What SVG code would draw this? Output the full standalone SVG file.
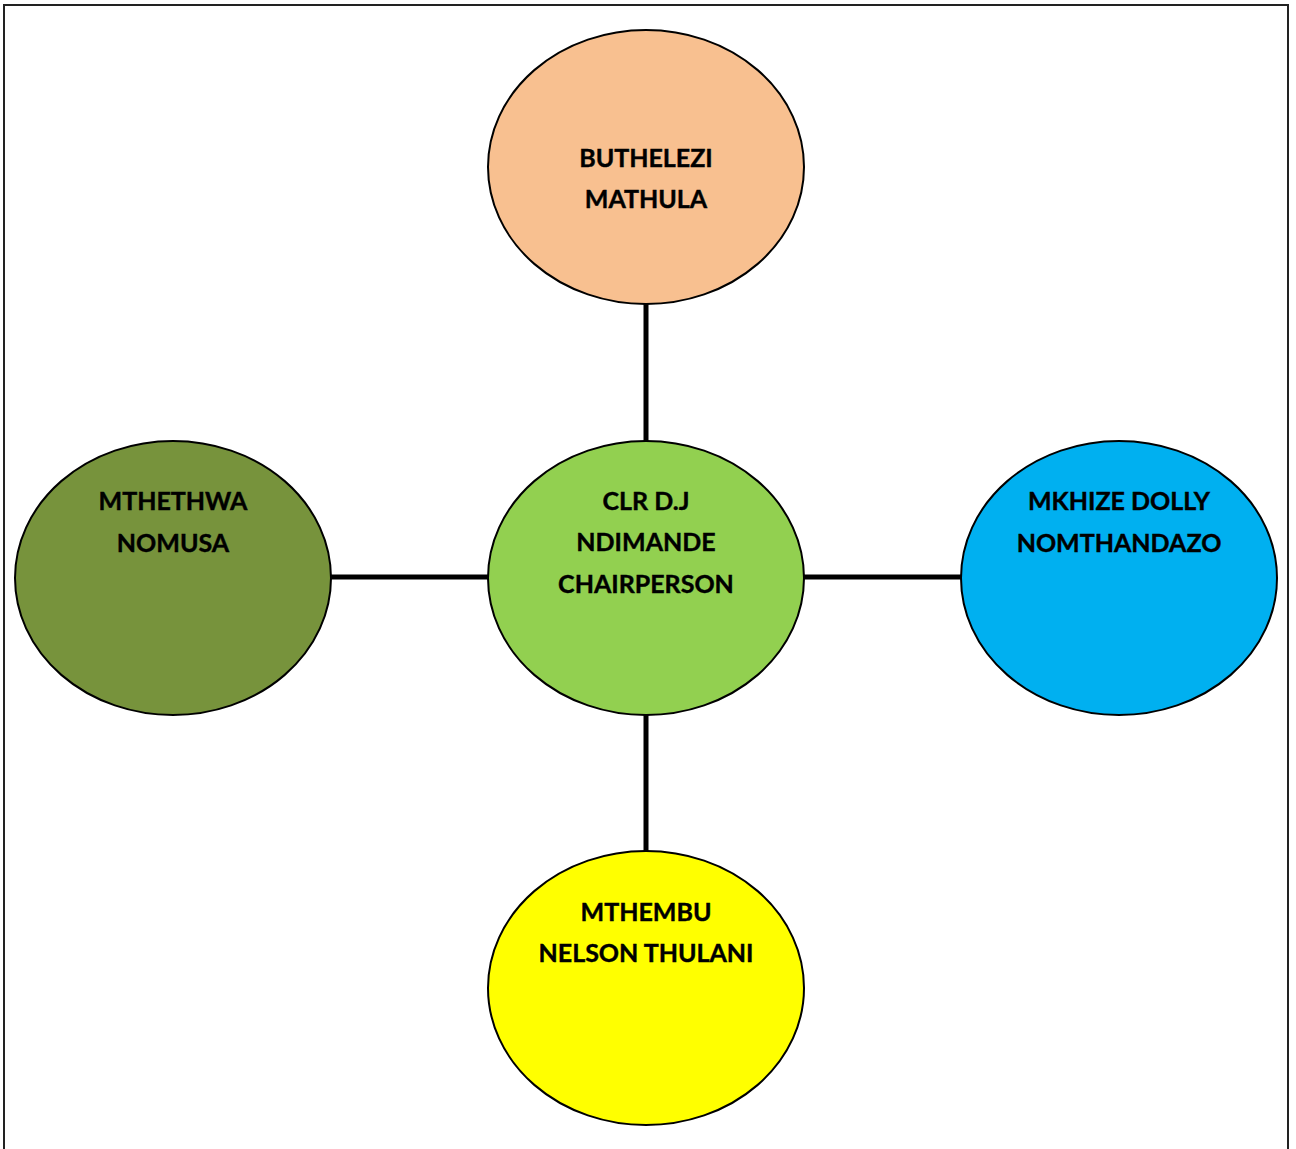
<svg xmlns="http://www.w3.org/2000/svg" width="1296" height="1149" viewBox="0 0 1296 1149">
<style>
.node{stroke:#000;stroke-width:2}
.lbl{font-family:Lato,"Liberation Sans",sans-serif;font-weight:bold;font-size:25px;text-anchor:middle;fill:#000;stroke:#000;stroke-width:0.4}
.conn{stroke:#000;stroke-width:5;fill:none}
</style>
<rect x="0" y="0" width="1296" height="1149" fill="#fff"/>
<rect x="4" y="5" width="1284" height="1160" fill="none" stroke="#222" stroke-width="2"/>
<g id="connectors">
<line class="conn" x1="646" y1="304" x2="646" y2="441"/>
<line class="conn" x1="646" y1="715" x2="646" y2="851"/>
<line class="conn" x1="331" y1="577" x2="488" y2="577"/>
<line class="conn" x1="804" y1="577" x2="961" y2="577"/>
</g>
<g id="node-top">
<ellipse class="node" cx="646" cy="167" rx="158" ry="137" fill="#F8C090"/>
<text class="lbl" x="646" y="167">BUTHELEZI</text>
<text class="lbl" x="646" y="208">MATHULA</text>
</g>
<g id="node-center">
<ellipse class="node" cx="646" cy="578" rx="158" ry="137" fill="#92D050"/>
<text class="lbl" x="646" y="510">CLR D.J</text>
<text class="lbl" x="646" y="551">NDIMANDE</text>
<text class="lbl" x="646" y="593">CHAIRPERSON</text>
</g>
<g id="node-left">
<ellipse class="node" cx="173" cy="578" rx="158" ry="137" fill="#77933C"/>
<text class="lbl" x="173" y="510">MTHETHWA</text>
<text class="lbl" x="173" y="552">NOMUSA</text>
</g>
<g id="node-right">
<ellipse class="node" cx="1119" cy="578" rx="158" ry="137" fill="#00B0F0"/>
<text class="lbl" x="1119" y="510">MKHIZE DOLLY</text>
<text class="lbl" x="1119" y="552">NOMTHANDAZO</text>
</g>
<g id="node-bottom">
<ellipse class="node" cx="646" cy="988" rx="158" ry="137" fill="#FFFF00"/>
<text class="lbl" x="646" y="921">MTHEMBU</text>
<text class="lbl" x="646" y="962">NELSON THULANI</text>
</g>
</svg>
